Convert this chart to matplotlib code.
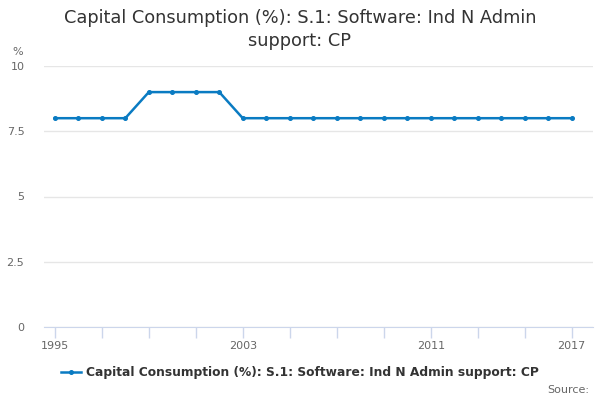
import matplotlib
matplotlib.use("Agg")
import matplotlib.pyplot as plt
from matplotlib.lines import Line2D

# ---------------------------
# Data
# ---------------------------
years = list(range(1995, 2018))
values = [8, 8, 8, 8, 9, 9, 9, 9, 8, 8, 8, 8, 8, 8, 8, 8, 8, 8, 8, 8, 8, 8, 8]
yticks = [0, 2.5, 5, 7.5, 10]
ytick_labels = ["0", "2.5", "5", "7.5", "10"]
xtick_labels = [1995, 2003, 2011, 2017]

title = "Capital Consumption (%): S.1: Software: Ind N Admin\nsupport: CP"
series_name = "Capital Consumption (%): S.1: Software: Ind N Admin support: CP"

line_color = "#0a7bc2"
text_color = "#333333"
tick_color = "#666666"

fig = plt.figure(figsize=(6, 4), dpi=100)
ax = fig.add_axes([0.073, 0.1825, 0.915, 0.6525])

ax.plot(years, values, color=line_color, linewidth=1.8, marker="o", markersize=2.6)

ax.set_xlim(1994.53, 2017.9)
ax.set_ylim(0, 10)

ax.set_yticks(yticks)
ax.set_yticklabels(ytick_labels)
ax.yaxis.grid(True, color="#e6e6e6", linewidth=1)
ax.set_axisbelow(True)

# minor ticks every 2 years, labels only on a few
ax.set_xticks(list(range(1995, 2018, 2)), minor=True)
ax.set_xticks(xtick_labels)
ax.set_xticklabels([str(x) for x in xtick_labels])
ax.tick_params(axis="x", which="both", length=8, color="#ccd6eb", width=1,
               labelsize=8, labelcolor=tick_color, pad=2)
ax.tick_params(axis="y", length=0, labelsize=8, labelcolor=tick_color, pad=14)

for s in ["top", "right", "left"]:
    ax.spines[s].set_visible(False)
ax.spines["bottom"].set_color("#ccd6eb")

fig.text(0.5, 0.978, title, ha="center", va="top", fontsize=12.8,
         color=text_color, linespacing=1.4)
fig.text(0.03, 0.87, "%", ha="center", va="center", fontsize=8, color=tick_color)

handle = Line2D([], [], color=line_color, linewidth=1.8, marker="o", markersize=2.6)
fig.legend([handle], [series_name], loc="center", bbox_to_anchor=(0.5, 0.068),
           frameon=False, handlelength=1.6, handletextpad=0.4,
           prop={"weight": "bold", "size": 8.8}, labelcolor=text_color)

fig.text(0.982, 0.025, "Source:", ha="right", va="center", fontsize=8, color=tick_color)

fig.savefig("out.png", dpi=100)
